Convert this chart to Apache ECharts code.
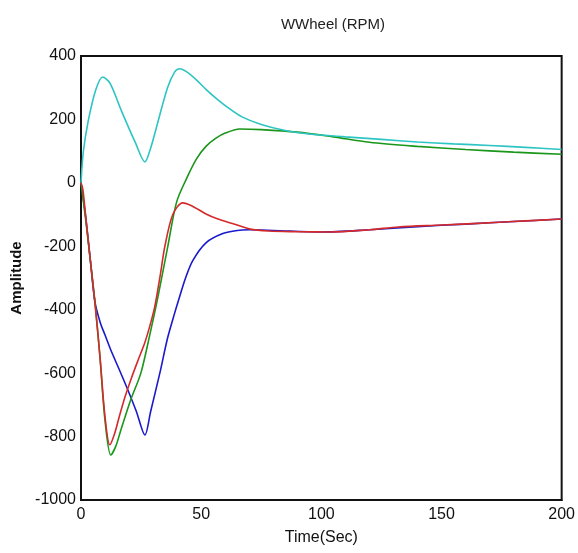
<!DOCTYPE html>
<html>
<head>
<meta charset="utf-8">
<script src="https://cdn.jsdelivr.net/npm/echarts@6/dist/echarts.min.js"></script>
<style>html,body{margin:0;padding:0;background:#fff}#c{width:578px;height:553px}</style>
</head>
<body>
<div id="c"></div>
<script>
var titleText = 'WWheel (RPM)';
var xName = 'Time(Sec)';
var yName = 'Amplitude';
var xTicks = [0, 50, 100, 150, 200];
var yTicks = [-1000, -800, -600, -400, -200, 0, 200, 400];

var cyanT = [0, 1, 3, 6, 9, 12, 17, 22.5, 26.6, 29, 32, 36, 39, 41, 44, 48, 52, 56, 61, 67, 75, 85, 95, 110, 125, 140, 155, 170, 185, 200];
var cyanV = [0, 100, 195, 290, 334, 315, 224, 129, 66, 110, 192, 300, 350, 360, 350, 325, 295, 268, 238, 208, 184, 165, 154, 145, 137, 129, 123, 118, 112, 105];

var greenT = [0, 2, 4, 6, 8, 10, 12.4, 14.5, 16.6, 20.7, 24.9, 28.6, 32, 36, 39.8, 44, 48, 52, 56, 60, 66, 75, 90, 105, 120, 140, 160, 180, 200];
var greenV = [0, -120, -252, -390, -560, -750, -858, -830, -779, -684, -600, -480, -360, -205, -60, 15, 75, 115, 140, 157, 170, 168, 160, 145, 128, 115, 105, 97, 90];

var redT = [0, 0.8, 2, 4, 5.8, 7.9, 10, 12, 14, 16, 18.3, 21, 23.7, 26.5, 28.5, 30.7, 33, 34.9, 38.2, 42.3, 46, 52, 57, 63, 70, 78, 90, 103, 120, 132, 150, 167, 185, 200];
var redV = [0, -22, -110, -252, -379, -548, -738, -826, -790, -735, -675, -615, -560, -505, -455, -390, -290, -200, -100, -63, -72, -98, -114, -128, -145, -152, -154, -155, -148, -139, -133, -127, -120, -114];

var blueT = [0, 2, 4, 5.8, 8, 10, 12.4, 16, 19.5, 23, 26.6, 29, 32.8, 36, 39, 41, 43.5, 46.5, 52, 59, 65, 70, 80, 100, 120, 140, 160, 180, 200];
var blueV = [0, -110, -252, -375, -440, -480, -527, -590, -653, -720, -795, -720, -600, -490, -410, -360, -300, -245, -189, -160, -150, -148, -150, -155, -148, -138, -130, -122, -114];

function pairs(t, v) { return t.map(function (x, i) { return [x, v[i]]; }); }

var font = 'Liberation Sans';
var chart = echarts.init(document.getElementById('c'), null, {renderer: 'canvas'});
chart.setOption({
  backgroundColor: '#ffffff',
  animation: false,
  title: {
    text: titleText, left: 328, top: 12, textAlign: 'center',
    textStyle: {fontFamily: font, fontSize: 15, fontWeight: 'normal', color: '#222'}
  },
  grid: {left: 81, right: 15, top: 56, bottom: 53, show: true, borderColor: '#111', borderWidth: 2, backgroundColor: 'transparent'},
  xAxis: {
    type: 'value', min: xTicks[0], max: xTicks[xTicks.length - 1], interval: 50,
    name: xName, nameLocation: 'middle', nameGap: 30,
    nameTextStyle: {fontFamily: font, fontSize: 16, color: '#111'},
    axisLine: {show: true, onZero: false, lineStyle: {color: '#111', width: 2}},
    axisTick: {show: false},
    splitLine: {show: false},
    axisLabel: {fontFamily: font, fontSize: 16, color: '#111', margin: 7}
  },
  yAxis: {
    type: 'value', min: yTicks[0], max: yTicks[yTicks.length - 1], interval: 200,
    name: yName, nameLocation: 'middle', nameGap: 56, nameRotate: 90,
    nameTextStyle: {fontFamily: font, fontSize: 15, fontWeight: 'bold', color: '#111'},
    axisLine: {show: true, onZero: false, lineStyle: {color: '#111', width: 2}},
    axisTick: {show: false},
    splitLine: {show: false},
    axisLabel: {fontFamily: font, fontSize: 16, color: '#111', margin: 5, formatter: function (v) { return String(v); }}
  },
  series: [
    {type: 'line', data: pairs(blueT, blueV), smooth: 0.3, showSymbol: false, lineStyle: {color: '#1a1acc', width: 1.6}, z: 2},
    {type: 'line', data: pairs(greenT, greenV), smooth: 0.3, showSymbol: false, lineStyle: {color: '#1a961a', width: 1.6}, z: 3},
    {type: 'line', data: pairs(cyanT, cyanV), smooth: 0.3, showSymbol: false, lineStyle: {color: '#2ec4c4', width: 1.6}, z: 4},
    {type: 'line', data: pairs(redT, redV), smooth: 0.3, showSymbol: false, lineStyle: {color: '#d42a2a', width: 1.6}, z: 5}
  ]
});
</script>
</body>
</html>
